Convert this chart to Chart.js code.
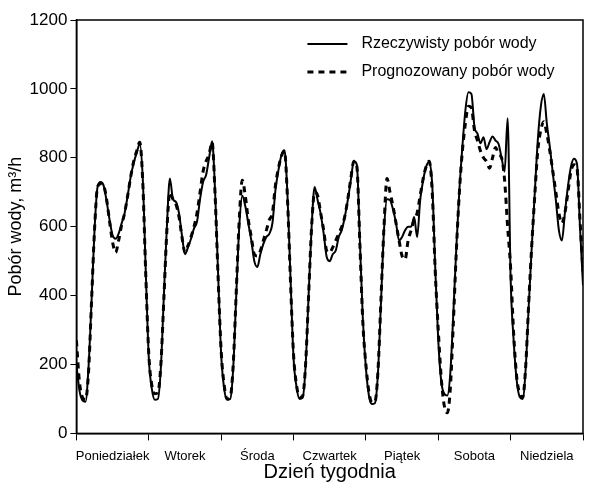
<!DOCTYPE html>
<html>
<head>
<meta charset="utf-8">
<script src="https://cdn.jsdelivr.net/npm/chart.js@4.4.0/dist/chart.umd.min.js"></script>
<style>
  body { margin: 0; background: #fff; }
</style>
</head>
<body>
<canvas id="myChart" width="591" height="484"></canvas>
<script>
// dni tygodnia (etykiety osi X)
var dni = ['Poniedziałek', 'Wtorek', 'Środa', 'Czwartek', 'Piątek', 'Sobota', 'Niedziela']
var osY = [0, 200, 400, 600, 800, 1000, 1200]

// pobór wody co godzinę, m3/h (od poniedziałku 0:00)
var rzeczywisty = [
  200, 125, 96, 92, 190, 380, 590, 715, 730, 720, 675, 620, 575, 565, 580, 610, 640, 690, 745, 785, 815, 840, 740, 470,
  220, 130, 98, 100, 190, 400, 600, 740, 680, 672, 640, 575, 520, 540, 565, 595, 615, 680, 730, 750, 800, 848, 700, 460,
  230, 130, 98, 100, 190, 400, 600, 690, 660, 610, 560, 500, 483, 520, 550, 570, 580, 610, 706, 764, 808, 822, 690, 450,
  220, 135, 100, 103, 195, 400, 600, 715, 677, 638, 580, 512, 500, 520, 531, 570, 590, 628, 677, 735, 790, 780, 560, 330,
  190, 110, 85, 88, 175, 380, 590, 680, 677, 650, 610, 560, 570, 590, 600, 600, 628, 570, 677, 735, 775, 788, 720, 480,
  270, 150, 115, 110, 175, 348, 541, 706, 832, 938, 990, 985, 890, 870, 842, 860, 825, 845, 862, 850, 840, 800, 760, 915,
  450, 270, 155, 106, 100, 190, 370, 541, 697, 850, 948, 985, 900, 832, 755, 677, 590, 560, 640, 716, 774, 797, 783, 600,
  430
]
var prognoza = [
  270, 150, 105, 98, 175, 380, 590, 715, 725, 720, 680, 615, 555, 525, 560, 605, 640, 690, 745, 790, 820, 845, 730, 460,
  230, 140, 115, 118, 200, 390, 590, 700, 680, 665, 630, 570, 525, 545, 570, 600, 640, 700, 760, 790, 810, 845, 690, 450,
  240, 140, 100, 105, 200, 410, 620, 735, 690, 620, 570, 520, 515, 530, 560, 590, 620, 640, 720, 770, 805, 820, 680, 440,
  230, 140, 105, 108, 200, 400, 600, 700, 690, 640, 590, 530, 525, 540, 560, 580, 600, 630, 680, 740, 790, 775, 550, 320,
  200, 120, 90, 92, 180, 390, 600, 740, 700, 660, 610, 560, 515, 505, 560, 590, 620, 640, 690, 740, 775, 790, 700, 470,
  300, 160, 80, 60, 130, 320, 530, 700, 820, 900, 950, 945, 880, 850, 820, 800, 790, 770, 800, 830, 810, 800, 735, 600,
  480, 290, 165, 115, 105, 195, 380, 545, 690, 820, 880, 905, 870, 820, 760, 700, 640, 610, 640, 700, 760, 780, 770, 620,
  470
]
var godziny = rzeczywisty.map((v, i) => i)

var czcionka = "'Liberation Sans', Arial, sans-serif"

// ramka wokół wykresu
const ramka = {
  id: 'ramka',
  afterDraw(chart) {
    let c = chart.ctx
    let a = chart.chartArea
    c.save()
    c.strokeStyle = '#000'
    c.lineWidth = 1.5
    c.strokeRect(a.left, a.top, a.right - a.left, a.bottom - a.top)
    c.restore()
  }
}

// legenda w prawym górnym rogu
const legenda = {
  id: 'legenda',
  afterDraw(chart) {
    let c = chart.ctx
    let a = chart.chartArea
    let x = a.left + 231
    let y = a.top + 24
    c.save()
    c.font = '16px ' + czcionka
    c.fillStyle = '#000'
    c.textBaseline = 'middle'
    chart.data.datasets.forEach((ds, i) => {
      let yy = y + i * 28
      c.beginPath()
      c.strokeStyle = '#000'
      c.lineWidth = ds.borderWidth
      c.setLineDash(ds.borderDash || [])
      c.moveTo(x, yy)
      c.lineTo(x + 40, yy)
      c.stroke()
      c.setLineDash([])
      c.fillText(ds.label, x + 54, yy)
    })
    c.restore()
  }
}

const ctx = document.getElementById('myChart')

new Chart(ctx, {
  type: 'line',
  data: {
    labels: godziny,
    datasets: [
      {
        label: 'Rzeczywisty pobór wody',
        data: rzeczywisty,
        borderColor: '#000',
        borderWidth: 2,
        pointRadius: 0,
        cubicInterpolationMode: 'monotone'
      },
      {
        label: 'Prognozowany pobór wody',
        data: prognoza,
        borderColor: '#000',
        borderWidth: 3,
        borderDash: [6, 5],
        pointRadius: 0,
        cubicInterpolationMode: 'monotone'
      }
    ]
  },
  options: {
    responsive: false,
    animation: false,
    devicePixelRatio: 1,
    layout: { padding: { top: 20, right: 3, left: 1, bottom: 0 } },
    plugins: {
      legend: { display: false },
      tooltip: { enabled: false }
    },
    scales: {
      x: {
        type: 'linear',
        min: 0,
        max: 168,
        border: { color: '#000', width: 1.5 },
        grid: {
          drawOnChartArea: false,
          tickLength: 7,
          color: (c) => (c.tick && c.tick.value % 24 === 0) ? '#000' : 'rgba(0,0,0,0)'
        },
        ticks: {
          stepSize: 12,
          autoSkip: false,
          maxRotation: 0,
          color: '#000',
          padding: 8,
          font: { family: czcionka, size: 13 },
          callback: (v) => v % 24 === 12 ? dni[(v - 12) / 24] : ''
        },
        title: {
          display: true,
          text: 'Dzień tygodnia',
          color: '#000',
          font: { family: czcionka, size: 20 },
          padding: { top: -12, bottom: 0 }
        }
      },
      y: {
        min: 0,
        max: 1200,
        border: { color: '#000', width: 1.5 },
        grid: {
          drawOnChartArea: false,
          tickLength: 6,
          color: '#000'
        },
        ticks: {
          stepSize: 200,
          color: '#000',
          padding: 3,
          font: { family: czcionka, size: 17 },
          callback: (v) => osY.includes(v) ? String(v) : ''
        },
        title: {
          display: true,
          text: 'Pobór wody, m³/h',
          color: '#000',
          font: { family: czcionka, size: 18 },
          padding: { top: 4, bottom: 0 }
        }
      }
    }
  },
  plugins: [ramka, legenda]
});
</script>
</body>
</html>
